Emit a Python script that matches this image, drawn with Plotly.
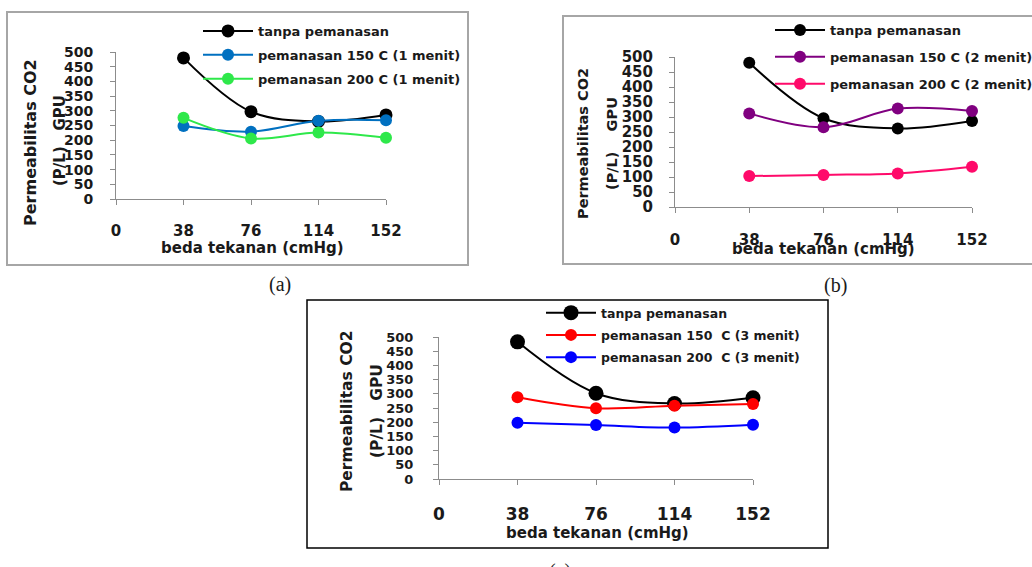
import plotly.graph_objects as go

# ---------------- data ----------------
pressure = [38, 76, 114, 152]
x_ticks = [0, 38, 76, 114, 152]
y_ticks = [0, 50, 100, 150, 200, 250, 300, 350, 400, 450, 500]

a_tanpa = [480, 297, 264, 286]
a_150 = [248, 229, 266, 268]
a_200 = [276, 206, 226, 208]

b_tanpa = [481, 296, 262, 287]
b_150 = [312, 266, 328, 320]
b_200 = [103, 107, 112, 134]

c_tanpa = [483, 302, 266, 286]
c_150 = [288, 249, 258, 264]
c_200 = [198, 190, 181, 191]

names_a = ["tanpa pemanasan", "pemanasan 150 C (1 menit)", "pemanasan 200 C (1 menit)"]
names_b = ["tanpa pemanasan", "pemanasan 150 C (2 menit)", "pemanasan 200 C (2 menit)"]
names_c = ["tanpa pemanasan", "pemanasan 150  C (3 menit)", "pemanasan 200  C (3 menit)"]

colors_a = ["#000000", "#0070C0", "#2EE84A"]
colors_b = ["#000000", "#800080", "#FF0A6A"]
colors_c = ["#000000", "#FF0000", "#0000FF"]

W, H = 1032, 567
FONT = "DejaVu Sans"


def px(x):
    return x / W


def py(y):
    return 1 - y / H


fig = go.Figure()

panels = [
    ("x", "y", "legend", [a_tanpa, a_150, a_200], names_a, colors_a, [13, 12, 12]),
    ("x2", "y2", "legend2", [b_tanpa, b_150, b_200], names_b, colors_b, [12, 12, 12]),
    ("x3", "y3", "legend3", [c_tanpa, c_150, c_200], names_c, colors_c, [15, 12, 12]),
]
for xa, ya, lg, series, names, cols, sizes in panels:
    for i, (vals, nm, col, sz) in enumerate(zip(series, names, cols, sizes)):
        fig.add_trace(go.Scatter(
            x=pressure, y=vals, name=nm, mode="lines+markers",
            line=dict(color=col, width=2, shape="spline", smoothing=1.0),
            marker=dict(color=col, size=sz),
            xaxis=xa, yaxis=ya, legend=lg, legendgroup=lg + str(i),
            cliponaxis=False, hoverinfo="skip",
        ))

geo = {
    "a": dict(x0=116, x1=386, y0=199, y1=52, xt=15, yt=14, xs=13, ys=14),
    "b": dict(x0=675, x1=972, y0=207, y1=57, xt=15, yt=15, xs=14, ys=13),
    "c": dict(x0=439, x1=753, y0=479, y1=337, xt=17, yt=13, xs=15, ys=17),
}
axcol = "#8C8C8C"
layout_axes = {}
for key, (xn, yn, xid, yid) in zip(
        ["a", "b", "c"],
        [("xaxis", "yaxis", "x", "y"), ("xaxis2", "yaxis2", "x2", "y2"), ("xaxis3", "yaxis3", "x3", "y3")]):
    g = geo[key]
    layout_axes[xn] = dict(
        domain=[px(g["x0"]), px(g["x1"])], range=[0, 152], anchor=yid,
        tickvals=x_ticks, ticktext=[str(v) for v in x_ticks],
        ticks="outside", ticklen=5, tickcolor=axcol, showline=True, linecolor=axcol,
        linewidth=1, showgrid=False, zeroline=False, ticklabelstandoff=g["xs"],
        tickfont=dict(family=FONT, size=g["xt"], color="#1a1a1a", weight="bold"),
    )
    layout_axes[yn] = dict(
        domain=[py(g["y0"]), py(g["y1"])], range=[0, 500], anchor=xid,
        tickvals=y_ticks, ticks="outside", ticklen=5, tickcolor=axcol, showline=True,
        linecolor=axcol, linewidth=1, showgrid=False, zeroline=False,
        ticklabelstandoff=g["ys"],
        tickfont=dict(family=FONT, size=g["yt"], color="#1a1a1a", weight="bold"),
    )

fig.update_layout(**layout_axes)

leg_common = dict(bgcolor="rgba(0,0,0,0)", borderwidth=0, xanchor="left", yanchor="top",
                  itemwidth=50, itemclick=False)
fig.update_layout(
    legend=dict(x=px(198), y=py(16), tracegroupgap=4,
                font=dict(family=FONT, size=13, color="#1a1a1a", weight="bold"), **leg_common),
    legend2=dict(x=px(770), y=py(15), tracegroupgap=7,
                 font=dict(family=FONT, size=13, color="#1a1a1a", weight="bold"), **leg_common),
    legend3=dict(x=px(541), y=py(298), tracegroupgap=3,
                 font=dict(family=FONT, size=12.5, color="#1a1a1a", weight="bold"), **leg_common),
)

shapes = [
    dict(type="rect", xref="paper", yref="paper", x0=px(7), x1=px(468), y0=py(265), y1=py(12),
         line=dict(color="#A6A6A6", width=2)),
    dict(type="rect", xref="paper", yref="paper", x0=px(563), x1=px(1045), y0=py(264), y1=py(16),
         line=dict(color="#A6A6A6", width=2)),
    dict(type="rect", xref="paper", yref="paper", x0=px(307), x1=px(828), y0=py(548), y1=py(300),
         line=dict(color="#000000", width=1.5)),
]

ann = []


def text(x, y, s, size, angle=0, family=FONT, bold=True):
    ann.append(dict(x=px(x), y=py(y), xref="paper", yref="paper", text=s, showarrow=False,
                    textangle=angle, xanchor="center", yanchor="middle",
                    font=dict(family=family, size=size, color="#1a1a1a",
                              weight="bold" if bold else "normal")))


text(30, 143, "Permeabilitas CO2", 16, -90)
text(60, 141, "(P/L)&nbsp;&nbsp;&nbsp;GPU", 15, -90)
text(252, 248, "beda tekanan (cmHg)", 15)
text(583, 144, "Permeabilitas CO2", 14.5, -90)
text(612, 144, "(P/L)&nbsp;&nbsp;&nbsp;&nbsp;GPU", 14.5, -90)
text(823, 249, "beda tekanan (cmHg)", 15)
text(347, 411, "Permeabilitas CO2", 15.5, -90)
text(377, 411, "(P/L)&nbsp;&nbsp;&nbsp;GPU", 15.5, -90)
text(597, 533, "beda tekanan (cmHg)", 15)
text(280, 284, "(a)", 20, family="Liberation Serif", bold=False)
text(835, 285, "(b)", 20, family="Liberation Serif", bold=False)
text(560, 571, "(c)", 20, family="Liberation Serif", bold=False)

fig.update_layout(
    width=W, height=H, autosize=False,
    margin=dict(l=0, r=0, t=0, b=0, pad=0, autoexpand=False),
    paper_bgcolor="white", plot_bgcolor="white",
    shapes=shapes, annotations=ann, showlegend=True, hovermode=False,
)

fix_page = ("document.documentElement.style.margin='0';document.documentElement.style.overflow='hidden';"
            "document.body.style.margin='0';document.body.style.overflow='hidden';")
fig.write_html("out.html", post_script=fix_page, config={"displayModeBar": False})
